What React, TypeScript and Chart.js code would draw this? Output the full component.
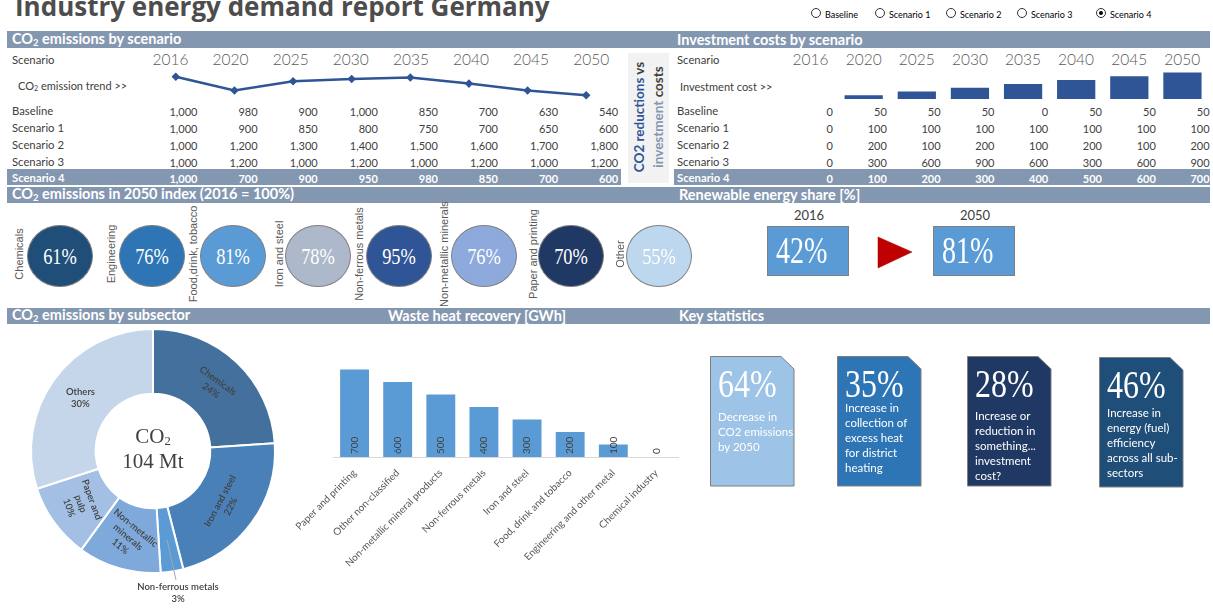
import React, { useEffect, useRef } from 'react';
import { Chart, registerables } from 'chart.js';
Chart.register(...registerables);

// ---------- DATA ----------
const years = ['2016', '2020', '2025', '2030', '2035', '2040', '2045', '2050'];
const scenarioNames = ['Baseline', 'Scenario 1', 'Scenario 2', 'Scenario 3', 'Scenario 4'];
const co2Baseline = [1000, 980, 900, 1000, 850, 700, 630, 540];
const co2Scenario1 = [1000, 900, 850, 800, 750, 700, 650, 600];
const co2Scenario2 = [1000, 1200, 1300, 1400, 1500, 1600, 1700, 1800];
const co2Scenario3 = [1000, 1200, 1000, 1200, 1000, 1200, 1000, 1200];
const co2Scenario4 = [1000, 700, 900, 950, 980, 850, 700, 600];
const invBaseline = [0, 50, 50, 50, 0, 50, 50, 50];
const invScenario1 = [0, 100, 100, 100, 100, 100, 100, 100];
const invScenario2 = [0, 200, 100, 200, 100, 200, 100, 200];
const invScenario3 = [0, 300, 600, 900, 600, 300, 600, 900];
const invScenario4 = [0, 100, 200, 300, 400, 500, 600, 700];
const selectedScenario = 4;

const indexSectors = ['Chemicals', 'Engineering', 'Food,drink, tobacco', 'Iron and steel', 'Non-ferrous metals', 'Non-metallic minerals', 'Paper and printing', 'Other'];
const indexValues = [61, 76, 81, 78, 95, 76, 70, 55];

const renewableYears = ['2016', '2050'];
const renewableShares = [42, 81];

const subsectorLabels = ['Chemicals', 'Iron and steel', 'Non-ferrous metals', 'Non-metallic minerals', 'Paper and pulp', 'Others'];
const subsectorShares = [24, 22, 3, 11, 10, 30];
const co2TotalMt = 104;

const wasteHeatLabels = ['Paper and printing', 'Other non-classified', 'Non-metallic mineral products', 'Non-ferrous metals', 'Iron and steel', 'Food, drink and tobacco', 'Engineering and other metal', 'Chemical industry'];
const wasteHeatValues = [700, 600, 500, 400, 300, 200, 100, 0];

const statValues = [64, 35, 28, 46];
const statTexts = [
  ['Decrease in', 'CO2 emissions', 'by 2050'],
  ['Increase in', 'collection of', 'excess heat', 'for district', 'heating'],
  ['Increase or', 'reduction in', 'something...', 'investment', 'cost?'],
  ['Increase in', 'energy (fuel)', 'efficiency', 'across all sub-', 'sectors'],
];

const co2Rows = [co2Baseline, co2Scenario1, co2Scenario2, co2Scenario3, co2Scenario4];
const invRows = [invBaseline, invScenario1, invScenario2, invScenario3, invScenario4];

// ---------- STYLE ----------
const HEADER = '#8497B0';
const DARK = '#404040';
const GREY = '#595959';
const SANS = 'Lato, "Open Sans", sans-serif';
const SERIF = '"Liberation Serif", "DejaVu Serif", serif';
const circleColors = ['#1F4E79', '#2E75B6', '#5B9BD5', '#ADB9CA', '#2F5597', '#8EA9DB', '#203864', '#BDD7EE'];
const circleX = [60, 152, 233, 318, 399, 484, 571, 659];
const circleLabelX = [19, 111, 193, 279, 359, 444, 533, 620];
const donutColors = ['#44709D', '#4A80B8', '#5B9BD5', '#7EA9DA', '#A3C0E4', '#C5D6EB'];
const donutLabelLines = [['Chemicals'], ['Iron and steel'], ['Non-ferrous metals'], ['Non-metallic', 'minerals'], ['Paper and', 'pulp'], ['Others']];
const donutLabelRot = [36, -62, 0, 40, 70, 0];
const statColors = ['#9DC3E6', '#2E75B6', '#203864', '#1F4E79'];
const statBoxes = [[710, 356], [837, 356], [967, 356], [1099, 357]];
const statTextTop = [417, 408, 416, 413];
const radioX = [816, 880, 951, 1022, 1101];
const rowY = [111, 128, 145, 161.5, 178];

const fmt = (v: number) => v.toLocaleString('en-US');

function Txt({ x, y, children, align = 'left', w = 300, s = {} }: any) {
  let left = x;
  if (align === 'right') left = x - w;
  if (align === 'center') left = x - w / 2;
  return (
    <div style={{ position: 'absolute', left, top: y, width: w, textAlign: align, transform: 'translateY(-50%)', lineHeight: 1, whiteSpace: 'nowrap', ...s }}>
      {children}
    </div>
  );
}

function ChartCanvas({ left, top, width, height, make }: any) {
  const ref = useRef<HTMLCanvasElement>(null);
  useEffect(() => {
    const chart = new Chart(ref.current as HTMLCanvasElement, make());
    return () => chart.destroy();
  }, []);
  return <canvas ref={ref} width={width} height={height} style={{ position: 'absolute', left, top, width, height }} />;
}

const CO2 = () => (<span>CO<sub style={{ fontSize: '0.65em', verticalAlign: '-0.25em' }}>2</sub></span>);

const baseOpts: any = {
  responsive: false,
  animation: false,
  events: [],
  plugins: { legend: { display: false }, tooltip: { enabled: false } },
};

function makeTrend(): any {
  return {
    type: 'line',
    data: {
      labels: years,
      datasets: [{
        data: co2Rows[selectedScenario], borderColor: '#2F5597', backgroundColor: '#2F5597',
        borderWidth: 2.5, pointRadius: 2.5, pointStyle: 'rectRot', tension: 0, clip: false,
      }],
    },
    options: { ...baseOpts, layout: { padding: 0 }, scales: { x: { display: false, offset: true }, y: { display: false, min: 420, max: 1220 } } },
  };
}

function makeInvest(): any {
  return {
    type: 'bar',
    data: { labels: years, datasets: [{ data: invRows[selectedScenario], backgroundColor: '#2F5597', barPercentage: 0.72, categoryPercentage: 1 }] },
    options: { ...baseOpts, layout: { padding: 0 }, scales: { x: { display: false }, y: { display: false, min: 0, max: 900 } } },
  };
}

const donutLabelPlugin = {
  id: 'donutLabels',
  afterDatasetsDraw(chart: any) {
    const ctx = chart.ctx;
    const meta = chart.getDatasetMeta(0);
    ctx.save();
    ctx.fillStyle = DARK;
    ctx.font = '600 9.5px Lato, sans-serif';
    ctx.textAlign = 'center';
    ctx.textBaseline = 'middle';
    meta.data.forEach((arc: any, i: number) => {
      const lines = [...donutLabelLines[i], subsectorShares[i] + '%'];
      if (i === 2) {
        const p = arc.getCenterPoint();
        const lx = arc.x + 25;
        const ly = arc.y + arc.outerRadius + 14;
        ctx.strokeStyle = '#A6A6A6';
        ctx.lineWidth = 1;
        ctx.beginPath();
        ctx.moveTo(p.x, p.y);
        ctx.lineTo(lx - 2, ly - 7);
        ctx.stroke();
        lines.forEach((l, k) => ctx.fillText(l, lx, ly + k * 12));
        return;
      }
      const p = arc.getCenterPoint();
      ctx.save();
      ctx.translate(p.x, p.y);
      ctx.rotate((donutLabelRot[i] * Math.PI) / 180);
      const n = lines.length;
      lines.forEach((l, k) => ctx.fillText(l, 0, (k - (n - 1) / 2) * 12));
      ctx.restore();
    });
    ctx.restore();
  },
};

function makeDonut(): any {
  return {
    type: 'doughnut',
    data: { labels: subsectorLabels, datasets: [{ data: subsectorShares, backgroundColor: donutColors, borderColor: '#ffffff', borderWidth: 2 }] },
    options: { ...baseOpts, cutout: '47%', layout: { padding: { left: 30, right: 34, top: 8, bottom: 36 } } },
    plugins: [donutLabelPlugin],
  };
}

const barLabelPlugin = {
  id: 'barLabels',
  afterDatasetsDraw(chart: any) {
    const ctx = chart.ctx;
    const meta = chart.getDatasetMeta(0);
    const base = chart.scales.y.getPixelForValue(0);
    ctx.save();
    ctx.fillStyle = DARK;
    ctx.font = '10px Lato, sans-serif';
    ctx.textAlign = 'left';
    ctx.textBaseline = 'middle';
    meta.data.forEach((bar: any, i: number) => {
      ctx.save();
      ctx.translate(bar.x, base - 3);
      ctx.rotate(-Math.PI / 2);
      ctx.fillText(String(wasteHeatValues[i]), 0, 0);
      ctx.restore();
    });
    ctx.restore();
  },
};

function makeWaste(): any {
  return {
    type: 'bar',
    data: { labels: wasteHeatLabels, datasets: [{ data: wasteHeatValues, backgroundColor: '#5B9BD5', barPercentage: 0.67, categoryPercentage: 1 }] },
    options: {
      ...baseOpts,
      layout: { padding: { left: 43, right: 22, top: 17, bottom: 0 } },
      scales: {
        x: {
          grid: { display: false },
          border: { display: true, color: '#D9D9D9', width: 1 },
          ticks: { color: GREY, font: { family: 'Lato', size: 10 }, minRotation: 45, maxRotation: 45, autoSkip: false, padding: 2 },
          afterFit: (s: any) => { s.height = 153; },
        },
        y: { display: false, min: 0, max: 800 },
      },
    },
    plugins: [barLabelPlugin],
  };
}

export default function App() {
  const hdr = { fontSize: 14.5, fontWeight: 700, color: '#fff' };
  return (
    <div style={{ position: 'absolute', left: 0, top: 0, width: 1213, height: 610, overflow: 'hidden', background: '#fff', fontFamily: SANS, color: DARK }}>
      {/* Title */}
      <div style={{ position: 'absolute', left: 15, top: 13, transform: 'translateY(-78%)', fontFamily: '"Open Sans", sans-serif', fontWeight: 700, fontSize: 26, color: '#4D4D4D', whiteSpace: 'nowrap', lineHeight: 1 }}>
        Industry energy demand report Germany
      </div>

      {/* Radio buttons */}
      {scenarioNames.map((n, i) => (
        <div key={n}>
          <div style={{ position: 'absolute', left: radioX[i] - 5, top: 8, width: 10, height: 10, borderRadius: '50%', border: '1px solid #333', boxSizing: 'border-box', background: '#fff' }}>
            {i === selectedScenario && <div style={{ position: 'absolute', left: 2, top: 2, width: 4, height: 4, borderRadius: '50%', background: '#000' }} />}
          </div>
          <Txt x={radioX[i] + 9} y={13.5} s={{ fontSize: 9, color: '#000' }}>{n}</Txt>
        </div>
      ))}

      {/* Header bars */}
      <div style={{ position: 'absolute', left: 7, top: 31, width: 1203, height: 17, background: HEADER }} />
      <div style={{ position: 'absolute', left: 7, top: 169, width: 1203, height: 16, background: HEADER }} />
      <div style={{ position: 'absolute', left: 7, top: 187, width: 1203, height: 16, background: HEADER }} />
      <div style={{ position: 'absolute', left: 7, top: 308, width: 1203, height: 16, background: HEADER }} />
      <Txt x={12} y={39.5} s={hdr}><CO2 /> emissions by scenario</Txt>
      <Txt x={677} y={39.5} s={hdr}>Investment costs by scenario</Txt>
      <Txt x={12} y={195} s={hdr}><CO2 /> emissions in 2050 index (2016 = 100%)</Txt>
      <Txt x={679} y={195} s={hdr}>Renewable energy share [%]</Txt>
      <Txt x={12} y={316} s={hdr}><CO2 /> emissions by subsector</Txt>
      <Txt x={477} y={316} align="center" s={hdr}>Waste heat recovery [GWh]</Txt>
      <Txt x={679} y={316} s={hdr}>Key statistics</Txt>

      {/* Left table */}
      <Txt x={12} y={60} s={{ fontSize: 11.3 }}>Scenario</Txt>
      {years.map((y, j) => (
        <Txt key={y} x={170.5 + 60.1 * j} y={60} align="center" w={60} s={{ fontSize: 15.5, color: GREY, fontWeight: 300 }}>{y}</Txt>
      ))}
      <Txt x={18} y={86} s={{ fontSize: 11 }}><CO2 /> emission trend &gt;&gt;</Txt>
      {scenarioNames.map((n, i) => (
        <div key={n}>
          <Txt x={12} y={rowY[i]} s={{ fontSize: 11.3, color: i === 4 ? '#fff' : DARK, fontWeight: i === 4 ? 700 : 400 }}>{n}</Txt>
          {co2Rows[i].map((v, j) => (
            <Txt key={j} x={197.5 + 60.1 * j} y={rowY[i]} align="right" w={60} s={{ fontSize: 11, color: i === 4 ? '#fff' : DARK, fontWeight: i === 4 ? 700 : 400 }}>{fmt(v)}</Txt>
          ))}
        </div>
      ))}
      <ChartCanvas left={140} top={60} width={482} height={50} make={makeTrend} />

      {/* Right table */}
      <Txt x={677} y={60} s={{ fontSize: 11.3 }}>Scenario</Txt>
      {years.map((y, j) => (
        <Txt key={y} x={810.6 + 53.1 * j} y={60} align="center" w={54} s={{ fontSize: 15.5, color: GREY, fontWeight: 300 }}>{y}</Txt>
      ))}
      <Txt x={680} y={86} s={{ fontSize: 11 }}>Investment cost &gt;&gt;</Txt>
      {scenarioNames.map((n, i) => (
        <div key={n}>
          <Txt x={677} y={rowY[i]} s={{ fontSize: 11.3, color: i === 4 ? '#fff' : DARK, fontWeight: i === 4 ? 700 : 400 }}>{n}</Txt>
          {invRows[i].map((v, j) => (
            <Txt key={j} x={833 + 53.8 * j} y={rowY[i]} align="right" w={50} s={{ fontSize: 11, color: i === 4 ? '#fff' : DARK, fontWeight: i === 4 ? 700 : 400 }}>{fmt(v)}</Txt>
          ))}
        </div>
      ))}
      <ChartCanvas left={784} top={65} width={425} height={34} make={makeInvest} />

      {/* Vertical label box */}
      <div style={{ position: 'absolute', left: 621, top: 49, width: 53, height: 137, background: '#fff' }} />
      <div style={{ position: 'absolute', left: 628, top: 53, width: 41, height: 130, background: '#F2F2F2' }} />
      <div style={{ position: 'absolute', left: 649, top: 117, width: 130, transform: 'translate(-50%,-50%) rotate(-90deg)', textAlign: 'center', fontSize: 13.5, fontWeight: 700, lineHeight: '19px', whiteSpace: 'nowrap' }}>
        <div><span style={{ color: '#2F5597' }}>CO2 reductions</span> <span style={{ color: DARK }}>vs</span></div>
        <div><span style={{ color: HEADER }}>investment</span> <span style={{ color: DARK }}>costs</span></div>
      </div>

      {/* Index circles */}
      {indexSectors.map((s, i) => (
        <div key={s}>
          <div style={{ position: 'absolute', left: circleX[i] - 33, top: 225, width: 66, height: 62, borderRadius: '50%', background: circleColors[i], border: '1px solid #7F7F7F', boxSizing: 'border-box' }} />
          <div style={{ position: 'absolute', left: circleX[i], top: 256, transform: 'translate(-50%,-50%) scaleX(0.8)', fontFamily: SERIF, fontSize: 23, color: '#fff', lineHeight: 1, whiteSpace: 'nowrap' }}>{indexValues[i]}%</div>
          <div style={{ position: 'absolute', left: circleLabelX[i], top: 254, transform: 'translate(-50%,-50%) rotate(-90deg)', fontFamily: '"Liberation Sans", Arial, sans-serif', fontSize: 11, color: GREY, lineHeight: 1, whiteSpace: 'nowrap' }}>{s}</div>
        </div>
      ))}

      {/* Renewable share */}
      {renewableYears.map((y, i) => {
        const bx = [767, 933][i];
        return (
          <div key={y}>
            <Txt x={bx + 42} y={215} align="center" w={80} s={{ fontSize: 13, color: DARK }}>{y}</Txt>
            <div style={{ position: 'absolute', left: bx, top: 226, width: 82, height: 50, background: '#5B9BD5', border: '1px solid #7F7F7F', boxSizing: 'border-box' }} />
            <div style={{ position: 'absolute', left: bx + 9, top: 250, transform: 'translateY(-50%) scaleX(0.76)', transformOrigin: 'left center', fontFamily: SERIF, fontSize: 37, color: '#fff', lineHeight: 1, whiteSpace: 'nowrap' }}>{renewableShares[i]}%</div>
          </div>
        );
      })}
      <svg style={{ position: 'absolute', left: 870, top: 230, width: 50, height: 45 }}>
        <polygon points="8,7 42,22 8,38" fill="#C00000" stroke="#A00000" strokeWidth="0.5" />
      </svg>

      {/* Donut */}
      <ChartCanvas left={0} top={320} width={310} height={290} make={makeDonut} />
      <div style={{ position: 'absolute', left: 153, top: 437, transform: 'translate(-50%,-50%)', fontFamily: SERIF, fontSize: 21, color: DARK, lineHeight: 1, whiteSpace: 'nowrap' }}>
        CO<sub style={{ fontSize: '0.6em', verticalAlign: '-0.2em' }}>2</sub>
      </div>
      <div style={{ position: 'absolute', left: 153, top: 461, transform: 'translate(-50%,-50%)', fontFamily: SERIF, fontSize: 21, color: DARK, lineHeight: 1, whiteSpace: 'nowrap' }}>
        {co2TotalMt} Mt
      </div>

      {/* Waste heat bars */}
      <ChartCanvas left={290} top={340} width={410} height={270} make={makeWaste} />

      {/* Key statistics */}
      <svg style={{ position: 'absolute', left: 0, top: 0, width: 1213, height: 610, pointerEvents: 'none' }}>
        {statBoxes.map(([x, y], i) => (
          <polygon key={i} points={`${x + 0.5},${y + 0.5} ${x + 71},${y + 0.5} ${x + 84},${y + 13} ${x + 84},${y + 130} ${x + 0.5},${y + 130}`} fill={statColors[i]} stroke="#7F7F7F" strokeWidth="1" />
        ))}
      </svg>
      {statBoxes.map(([x, y], i) => (
        <div key={i}>
          <div style={{ position: 'absolute', left: x + 8, top: y + 28, transform: 'translateY(-50%) scaleX(0.8)', transformOrigin: 'left center', fontFamily: SERIF, fontSize: 40, color: '#fff', lineHeight: 1, whiteSpace: 'nowrap' }}>{statValues[i]}%</div>
          {statTexts[i].map((l, k) => (
            <Txt key={k} x={x + 8} y={statTextTop[i] + 15 * k} s={{ fontSize: 11.5, color: '#fff' }}>{l}</Txt>
          ))}
        </div>
      ))}
    </div>
  );
}
